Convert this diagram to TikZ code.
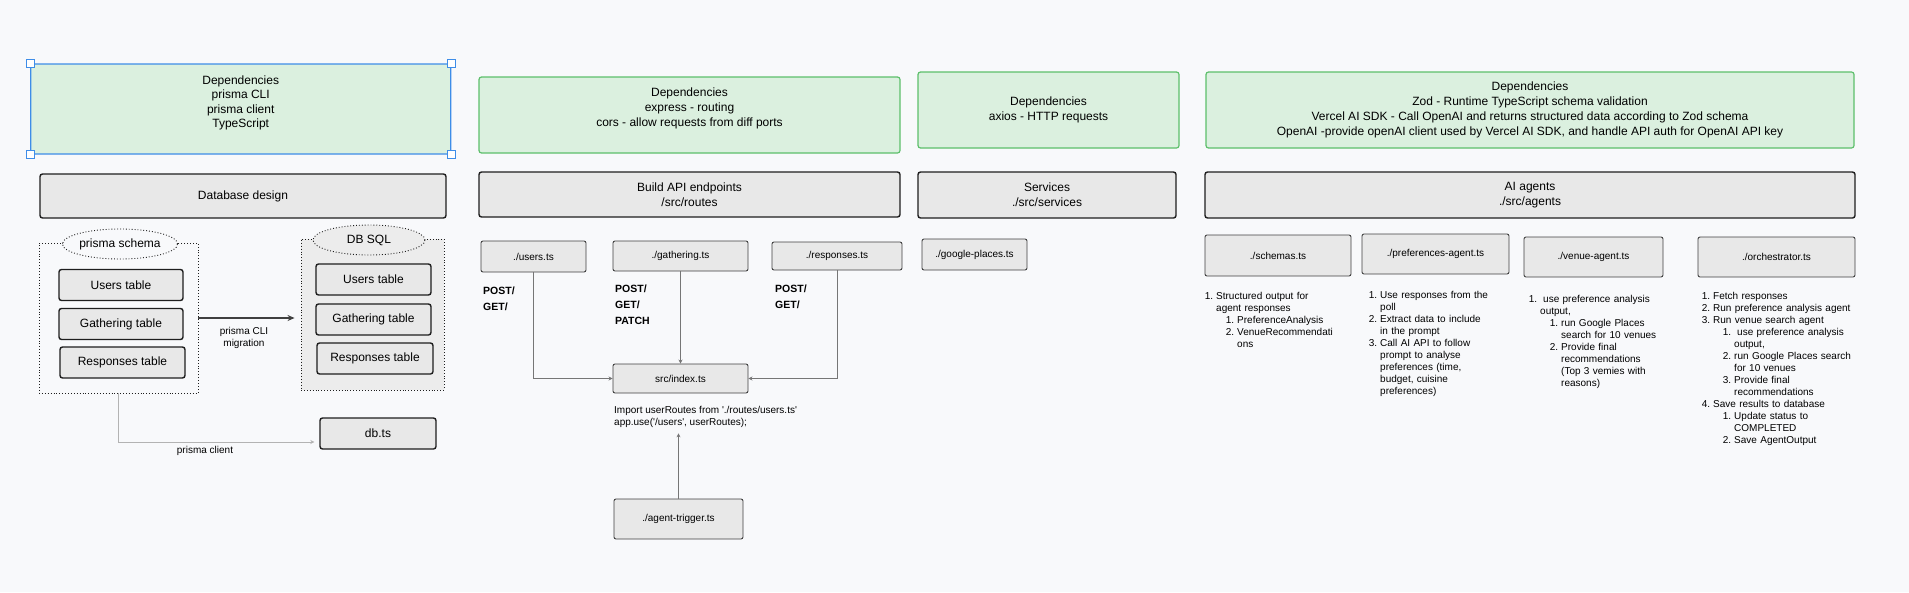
\documentclass[tikz,border=0pt]{standalone}
\usepackage{fontspec}
\setmainfont{Liberation Sans}
\usepackage{enumitem}
\usepackage{xcolor}
\definecolor{ink}{HTML}{1E1E1E}
\definecolor{paper}{HTML}{F8F9FB}
\definecolor{depfill}{HTML}{DBF0DF}
\definecolor{depline}{HTML}{5DBF6B}
\definecolor{selc}{HTML}{3E8DE8}
\definecolor{boxfill}{HTML}{E8E8E8}
\definecolor{sqlfill}{HTML}{ECECEC}
\definecolor{wire}{HTML}{767676}
\definecolor{faint}{HTML}{B3B3B3}
\usetikzlibrary{arrows.meta,positioning,shapes.geometric}
\setlist[enumerate]{label=\arabic*.,nosep,leftmargin=12pt,labelsep=3pt}
\setlist[enumerate,2]{leftmargin=21pt}

\begin{document}
\begin{tikzpicture}[x=1pt,y=-1pt,every node/.style={font=\fontsize{12}{15}\selectfont}]
\tikzstyle{depbox}=[draw=depline,fill=depfill,line width=1.2pt,rounded corners=2.5pt,align=center,minimum height=76pt]
\tikzstyle{titlebox}=[draw=ink,fill=boxfill,line width=1.4pt,rounded corners=2.5pt,align=center,minimum height=46pt]
\tikzstyle{filebox}=[draw=ink!85,fill=boxfill,line width=0.9pt,rounded corners=2pt,font=\fontsize{10}{12}\selectfont]
\tikzstyle{tablebox}=[draw=ink,fill=boxfill,line width=1.4pt,rounded corners=2.5pt,minimum height=31pt]
\tikzstyle{dotbox}=[draw=ink,dotted,line width=0.9pt]
\tikzstyle{blob}=[ellipse,draw=ink,dotted,line width=0.9pt,minimum width=112pt,minimum height=30pt,inner sep=0pt]
\tikzstyle{handle}=[draw=selc,fill=white,line width=0.9pt,minimum size=8pt,inner sep=0pt]
\tikzstyle{verbs}=[align=left,anchor=west,inner sep=0pt,font=\bfseries\fontsize{10.5}{16}\selectfont]
\tikzstyle{note}=[align=center,inner sep=0pt,font=\fontsize{10}{12}\selectfont]
\tikzstyle{steps}=[anchor=north west,align=left,inner sep=0pt,font=\fontsize{10}{12}\selectfont]
\tikzstyle{arr}=[-{Stealth[length=4pt,width=4pt]},wire,line width=0.9pt]

\fill[paper] (0,0) rectangle (1909,592);
\useasboundingbox (0,0) rectangle (1909,592);

% database column
\node[depbox,draw=selc,minimum width=420pt,minimum height=90pt,font=\fontsize{12}{14.5}\selectfont] (prismadeps) at (240.7,109) {Dependencies\\prisma CLI\\prisma client\\TypeScript\\~};
\foreach \c in {north west,north east,south west,south east}
  \node[handle] at (prismadeps.\c) {};
\node[titlebox,minimum width=406pt,minimum height=44pt] (dbdesign) at (243,196) {Database design};

\node[dotbox,minimum width=159pt,minimum height=150pt] (schema) at (118.5,318) {};
\node[dotbox,fill=sqlfill,minimum width=143pt,minimum height=151pt] (sqlbox) at (372.5,314.5) {};
\node[blob,fill=paper,minimum width=113pt] (schemalbl) at (120,244) {prisma schema};
\node[blob,fill=sqlfill] (sqllbl) at (369,240) {DB SQL};

\node[tablebox,minimum width=124pt] (usersL) at (121,285) {Users table};
\node[tablebox,minimum width=124pt] (gatherL) at (121,324) {Gathering table};
\node[tablebox,minimum width=125pt] (respL) at (122.5,362.5) {Responses table};
\node[tablebox,minimum width=115pt] (usersR) at (373.5,279.5) {Users table};
\node[tablebox,minimum width=115pt] (gatherR) at (373.5,319.5) {Gathering table};
\node[tablebox,minimum width=116pt] (respR) at (375,358.5) {Responses table};
\node[tablebox,minimum width=116pt] (dbts) at (378,433.5) {db.ts};

\draw[-{Stealth[length=7pt,width=6pt]},ink!85,line width=1.3pt,shorten >=6pt] (schema.east) -- (schema.east -| sqlbox.west);
\node[note] (miglbl) at (244,338) {prisma CLI\\migration};
\draw[arr,faint,shorten >=5pt] (schema.south) |- ([yshift=-8.5pt]dbts.west);
\node[note] (clientlbl) at (205,451) {prisma client};

% routes column
\node[depbox,minimum width=421pt] (expressdeps) at (689.5,115) {Dependencies\\express - routing\\cors - allow requests from diff ports\\~};
\node[titlebox,minimum width=421pt,minimum height=45pt] (routes) at (689.5,194.5) {Build API endpoints\\/src/routes};
\node[filebox,minimum width=105pt,minimum height=31pt] (users) at (533.5,256.5) {./users.ts};
\node[filebox,minimum width=135pt,minimum height=30pt] (gathering) at (680.5,256) {./gathering.ts};
\node[filebox,minimum width=130pt,minimum height=28pt] (responses) at (837,256) {./responses.ts};
\node[verbs] (usersverbs) at (483,299) {POST/\\GET/};
\node[verbs] (gatherverbs) at (615,305) {POST/\\GET/\\PATCH};
\node[verbs] (respverbs) at (775,297) {POST/\\GET/};
\node[filebox,minimum width=135pt,minimum height=29pt] (index) at (680.5,378.5) {src/index.ts};
\node[note,align=left,anchor=west] (imp) at (614,416.5) {Import userRoutes from \textquotesingle./routes/users.ts\textquotesingle\\app.use(\textquotesingle/users\textquotesingle, userRoutes);};
\node[filebox,minimum width=129pt,minimum height=40pt] (trigger) at (678.5,519) {./agent-trigger.ts};

\draw[arr] (users.south) |- (index.west);
\draw[arr] (gathering) -- (index);
\draw[arr] (responses.south) |- (index.east);
\draw[arr,shorten >=6pt] (trigger.north) -- (trigger.north |- imp.south);

% services column
\node[depbox,minimum width=261pt] (axiosdeps) at (1048.5,110) {Dependencies\\axios - HTTP requests};
\node[titlebox,minimum width=258pt] (services) at (1047,195) {Services\\./src/services};
\node[filebox,minimum width=105pt,minimum height=31pt] (places) at (974.5,254.5) {./google-places.ts};

% agents column
\node[depbox,minimum width=648pt] (aideps) at (1530,110) {Dependencies\\Zod - Runtime TypeScript schema validation\\Vercel AI SDK - Call OpenAI and returns structured data according to Zod schema\\OpenAI -provide openAI client used by Vercel AI SDK, and handle API auth for OpenAI API key};
\node[titlebox,minimum width=650pt] (agents) at (1530,195) {AI agents\\./src/agents};
\node[filebox,minimum width=146pt,minimum height=41pt] (schemas) at (1278,255.5) {./schemas.ts};
\node[filebox,minimum width=147pt,minimum height=40pt] (prefs) at (1435.5,254) {./preferences-agent.ts};
\node[filebox,minimum width=139pt,minimum height=40pt] (venue) at (1593.5,257) {./venue-agent.ts};
\node[filebox,minimum width=157pt,minimum height=40pt] (orch) at (1776.5,257) {./orchestrator.ts};

\node[steps,text width=140pt] (schemasteps) at (1204,287.5) {\begin{enumerate}
\item Structured output for\newline agent responses
  \begin{enumerate}
  \item PreferenceAnalysis
  \item VenueRecommendati\newline ons
  \end{enumerate}
\end{enumerate}};
\node[steps,text width=140pt] (prefsteps) at (1368,286.5) {\begin{enumerate}
\item Use responses from the\newline poll
\item Extract data to include\newline in the prompt
\item Call AI API to follow\newline prompt to analyse\newline preferences (time,\newline budget, cuisine\newline preferences)
\end{enumerate}};
\node[steps,text width=150pt] (venuesteps) at (1528,290.5) {\begin{enumerate}
\item \hspace{3pt}use preference analysis\newline output,
  \begin{enumerate}
  \item run Google Places\newline search for 10 venues
  \item Provide final\newline recommendations\newline (Top 3 vemies with\newline reasons)
  \end{enumerate}
\end{enumerate}};
\node[steps,text width=170pt] (orchsteps) at (1701,287.5) {\begin{enumerate}
\item Fetch responses
\item Run preference analysis agent
\item Run venue search agent
  \begin{enumerate}
  \item \hspace{3pt}use preference analysis\newline output,
  \item run Google Places search\newline for 10 venues
  \item Provide final\newline recommendations
  \end{enumerate}
\item Save results to database
  \begin{enumerate}
  \item Update status to\newline COMPLETED
  \item Save AgentOutput
  \end{enumerate}
\end{enumerate}};
\end{tikzpicture}
\end{document}
